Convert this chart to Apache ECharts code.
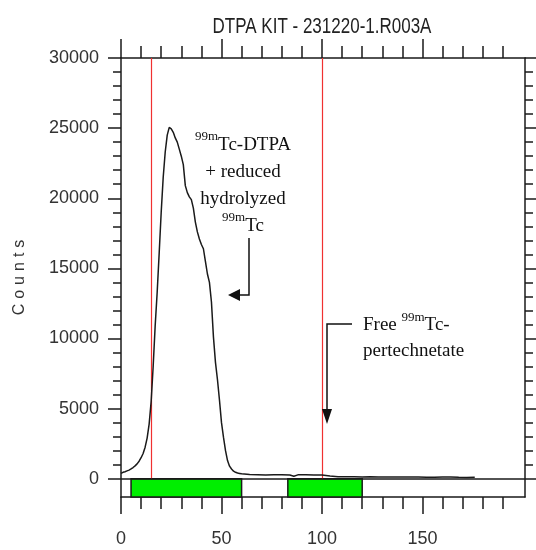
<!DOCTYPE html>
<html>
<head>
<meta charset="utf-8">
<script src="https://cdn.jsdelivr.net/npm/echarts@6/dist/echarts.min.js"></script>
<style>
  html, body { margin: 0; padding: 0; background: #fff; }
  #chart { width: 536px; height: 550px; }
</style>
</head>
<body>
<div id="chart"></div>
<script>
// chromatogram trace (position, counts)
var positions = [0, 1, 2, 3, 4, 5, 6, 7, 8, 9, 10, 11, 12, 13, 14, 15, 16, 17, 18, 19,
  20, 21, 22, 23, 24, 25, 26, 27, 28, 29, 30, 31, 32, 33, 34, 35, 36, 37, 38, 39,
  40, 41, 42, 43, 44, 45, 46, 47, 48, 49, 50, 51, 52, 53, 54, 55, 56, 57, 58, 59,
  60, 64, 68, 72, 76, 80, 84, 86, 88, 92, 96, 100, 104, 108, 112, 116, 120, 124, 128,
  132, 136, 140, 144, 148, 152, 156, 160, 164, 168, 172, 176];
var counts = [380, 460, 500, 560, 620, 700, 800, 920, 1060, 1250, 1500, 1800, 2250, 2900, 3900, 5500, 8000, 10900, 13300, 16100,
  19000, 21500, 23300, 24500, 25050, 24950, 24700, 24300, 24000, 23500, 23000, 22400, 20900, 20400, 20100, 19900, 19300, 18300, 17600, 17100,
  16700, 16400, 15500, 14600, 14000, 12600, 10100, 8300, 7060, 5600, 4000, 2950, 2000, 1300, 900, 700, 540, 460, 410, 380,
  350, 300, 290, 260, 290, 290, 270, 180, 280, 280, 270, 260, 200, 150, 140, 140, 130, 140, 130,
  130, 120, 130, 120, 120, 110, 110, 120, 120, 100, 90, 110];

// region boundaries (red lines) and integration bands (green)
var markerLines = [15, 100];
var bands = [[5, 60], [83, 120]];

var xMajorTicks = [0, 50, 100, 150];
var xMinorTicks = [10, 20, 30, 40, 60, 70, 80, 90, 110, 120, 130, 140, 160, 170, 180, 190];
var yMajorTicks = [0, 5000, 10000, 15000, 20000, 25000, 30000];
var yMinorTicks = [1000, 2000, 3000, 4000, 6000, 7000, 8000, 9000, 11000, 12000, 13000, 14000,
  16000, 17000, 18000, 19000, 21000, 22000, 23000, 24000, 26000, 27000, 28000, 29000];

var xMin = 0, xMax = 201, yMin = -1300, yMax = 30000;

var chart = echarts.init(document.getElementById('chart'));
var sans = "'Liberation Sans', Arial, sans-serif";
var serif = "'Liberation Serif', 'Times New Roman', serif";
var ink = '#1a1a1a';

function xAx(pos, ticks, len, labels, line) {
  return {
    type: 'value', position: pos, min: xMin, max: xMax,
    axisLine: { show: line, onZero: false, lineStyle: { color: ink, width: 1.5 } },
    axisTick: { show: true, customValues: ticks, length: len, lineStyle: { color: ink, width: 1.5 } },
    axisLabel: labels ? { customValues: labels, margin: 33, color: '#333', fontSize: 18, fontFamily: sans }
                      : { show: false },
    splitLine: { show: false }
  };
}
function yAx(pos, ticks, len, labels, line, name) {
  var a = {
    type: 'value', position: pos, min: yMin, max: yMax,
    axisLine: { show: line, onZero: false, lineStyle: { color: ink, width: 1.5 } },
    axisTick: { show: true, customValues: ticks, length: len, lineStyle: { color: ink, width: 1.5 } },
    axisLabel: labels ? { customValues: labels, margin: 22, color: '#333', fontSize: 18, fontFamily: sans,
                          formatter: function (v) { return String(v); } }
                      : { show: false },
    splitLine: { show: false }
  };
  if (name) {
    a.name = name.split('').map(function (c) { return '{c|' + c + '}'; }).join('');
    a.nameLocation = 'middle';
    a.nameRotate = 90;
    a.nameGap = 93;
    a.nameTextStyle = { color: '#333', fontSize: 16, fontFamily: sans,
                        rich: { c: { fontSize: 16, fontFamily: sans, padding: [0, 2.5, 0, 2.5] } } };
  }
  return a;
}

var option = {
  animation: false,
  backgroundColor: '#fff',
  grid: { left: 121, right: 11, top: 58, bottom: 53, outerBoundsMode: 'none' },
  xAxis: [
    xAx('bottom', xMajorTicks, 17, xMajorTicks, true),
    xAx('bottom', xMinorTicks, 12, null, false),
    xAx('top', xMajorTicks, 19, null, true),
    xAx('top', xMinorTicks, 12, null, false)
  ],
  yAxis: [
    yAx('left', yMajorTicks, 13, yMajorTicks, true, 'Counts'),
    yAx('left', yMinorTicks, 8, null, false),
    yAx('right', yMajorTicks, 13, null, true),
    yAx('right', yMinorTicks, 8, null, false)
  ],
  series: [{
    type: 'line',
    xAxisIndex: 0, yAxisIndex: 0,
    data: positions.map(function (p, i) { return [p, counts[i]]; }),
    symbol: 'none',
    lineStyle: { color: ink, width: 1.5 },
    z: 5,
    markLine: {
      silent: true,
      symbol: ['none', 'none'],
      label: { show: false },
      data: markerLines.map(function (x) {
        return [{ coord: [x, 0], lineStyle: { color: '#f03030', width: 1.2, type: 'solid' } },
                { coord: [x, yMax] }];
      }).concat([{ yAxis: 0, lineStyle: { color: ink, width: 1.5, type: 'solid' } }])
    },
    markArea: {
      silent: true,
      itemStyle: { color: '#00ee00', borderColor: ink, borderWidth: 1.5 },
      data: bands.map(function (b) {
        return [{ coord: [b[0], yMin] }, { coord: [b[1], 0] }];
      })
    }
  }],
  graphic: [
    {
      type: 'text', x: 322, y: 16, scaleY: 1.3, z: 10,
      style: {
        text: 'DTPA KIT - 231220-1.R003A',
        align: 'center', verticalAlign: 'top',
        fill: '#222', fontSize: 17, fontFamily: sans
      }
    },
    {
      type: 'text', x: 243, y: 128, z: 10,
      style: {
        text: '{s|99m}{t|Tc-DTPA}\n{t|+ reduced}\n{t|hydrolyzed}\n{s|99m}{t|Tc}',
        align: 'center', verticalAlign: 'top',
        fill: '#111',
        rich: {
          t: { fontSize: 19, fontFamily: serif, lineHeight: 27, verticalAlign: 'bottom' },
          s: { fontSize: 13, fontFamily: serif, lineHeight: 27, verticalAlign: 'top', padding: [2, 0, 0, 0] }
        }
      }
    },
    {
      type: 'polyline', z: 10,
      shape: { points: [[249, 238], [249, 295], [236, 295]] },
      style: { stroke: '#111', lineWidth: 1.5, fill: null }
    },
    {
      type: 'polygon', z: 10,
      shape: { points: [[228, 295], [240, 289], [240, 301]] },
      style: { fill: '#111' }
    },
    {
      type: 'text', x: 363, y: 309, z: 10,
      style: {
        text: '{t|Free }{s|99m}{t|Tc-}\n{t|pertechnetate}',
        align: 'left', verticalAlign: 'top',
        fill: '#111',
        rich: {
          t: { fontSize: 19, fontFamily: serif, lineHeight: 26, verticalAlign: 'bottom' },
          s: { fontSize: 13, fontFamily: serif, lineHeight: 26, verticalAlign: 'top', padding: [2, 0, 0, 0] }
        }
      }
    },
    {
      type: 'polyline', z: 10,
      shape: { points: [[352, 324], [327, 324], [327, 411]] },
      style: { stroke: '#111', lineWidth: 1.5, fill: null }
    },
    {
      type: 'polygon', z: 10,
      shape: { points: [[327, 424], [322, 409], [332, 409]] },
      style: { fill: '#111' }
    }
  ]
};

chart.setOption(option);
</script>
</body>
</html>
